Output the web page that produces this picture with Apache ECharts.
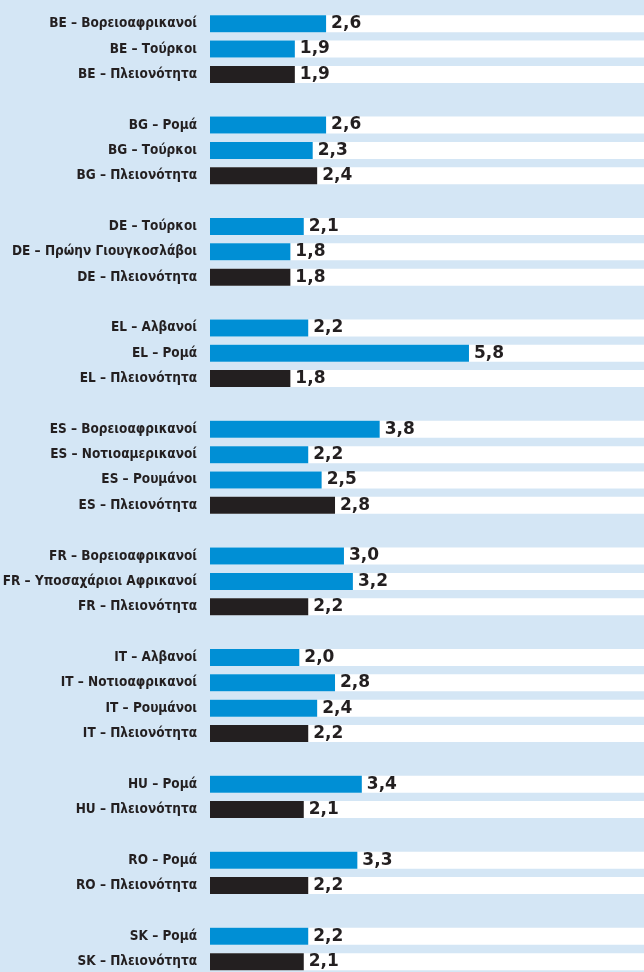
<!DOCTYPE html>
<html>
<head>
<meta charset="utf-8">
<script src="https://cdn.jsdelivr.net/npm/echarts@6/dist/echarts.min.js"></script>
<style>
  html, body { margin: 0; padding: 0; background: #d4e6f5; }
  #main { width: 644px; height: 972px; }
</style>
</head>
<body>
<div id="main"></div>
<script>
// rows top to bottom, '' = blank spacer row between countries
var labels = [
  'BE – Βορειοαφρικανοί', 'BE – Τούρκοι', 'BE – Πλειονότητα', '',
  'BG – Ρομά', 'BG – Τούρκοι', 'BG – Πλειονότητα', '',
  'DE – Τούρκοι', 'DE – Πρώην Γιουγκοσλάβοι', 'DE – Πλειονότητα', '',
  'EL – Αλβανοί', 'EL – Ρομά', 'EL – Πλειονότητα', '',
  'ES – Βορειοαφρικανοί', 'ES – Νοτιοαμερικανοί', 'ES – Ρουμάνοι', 'ES – Πλειονότητα', '',
  'FR – Βορειοαφρικανοί', 'FR – Υποσαχάριοι Αφρικανοί', 'FR – Πλειονότητα', '',
  'IT – Αλβανοί', 'IT – Νοτιοαφρικανοί', 'IT – Ρουμάνοι', 'IT – Πλειονότητα', '',
  'HU – Ρομά', 'HU – Πλειονότητα', '',
  'RO – Ρομά', 'RO – Πλειονότητα', '',
  'SK – Ρομά', 'SK – Πλειονότητα'
];
var values = [
  2.6, 1.9, 1.9, null,
  2.6, 2.3, 2.4, null,
  2.1, 1.8, 1.8, null,
  2.2, 5.8, 1.8, null,
  3.8, 2.2, 2.5, 2.8, null,
  3.0, 3.2, 2.2, null,
  2.0, 2.8, 2.4, 2.2, null,
  3.4, 2.1, null,
  3.3, 2.2, null,
  2.2, 2.1
];

var blue = '#008fd5';
var dark = '#231f20';
var xMax = 9.72;

var barData = values.map(function (v, i) {
  if (v == null) return null;
  return {
    value: v,
    itemStyle: { color: labels[i].indexOf('Πλειονότητα') >= 0 ? dark : blue }
  };
});
// white stripe behind every non-blank row
var stripeData = labels.map(function (l) { return l ? xMax : null; });

var myChart = echarts.init(document.getElementById('main'));
myChart.setOption({
  backgroundColor: '#d4e6f5',
  animation: false,
  grid: { left: 210, right: 0, top: 11, height: 963.3, outerBoundsMode: 'none', containLabel: false },
  xAxis: { type: 'value', min: 0, max: xMax, show: false },
  yAxis: {
    type: 'category',
    inverse: true,
    data: labels,
    axisLine: { show: false },
    axisTick: { show: false },
    splitLine: { show: false },
    axisLabel: {
      margin: 13,
      color: '#231f20',
      fontFamily: 'DejaVu Sans Condensed',
      fontWeight: 'bold',
      fontSize: 13.5,
      interval: 0
    }
  },
  series: [
    {
      type: 'bar',
      data: stripeData,
      barWidth: 17,
      barGap: '-100%',
      silent: true,
      itemStyle: { color: '#ffffff' }
    },
    {
      type: 'bar',
      data: barData,
      barWidth: 17,
      barGap: '-100%',
      label: {
        show: true,
        position: 'right',
        distance: 5,
        color: '#231f20',
        fontFamily: 'DejaVu Sans',
        fontWeight: 'bold',
        fontSize: 17,
        formatter: function (p) { return p.value.toFixed(1).replace('.', ','); }
      }
    }
  ]
});
</script>
</body>
</html>
